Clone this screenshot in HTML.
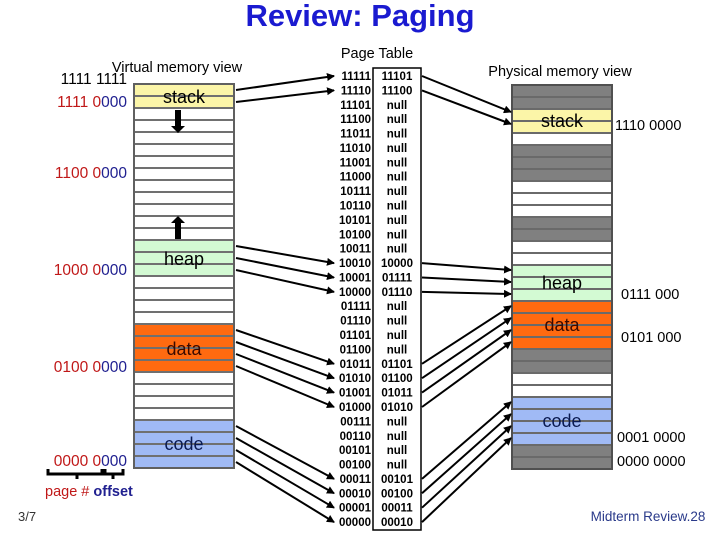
<!DOCTYPE html>
<html><head><meta charset="utf-8"><style>
html,body{margin:0;padding:0;background:#fff;}
svg{display:block;}
text{font-family:"Liberation Sans",Arial,sans-serif;}
</style></head><body>
<svg width="720" height="540" viewBox="0 0 720 540" xmlns="http://www.w3.org/2000/svg">
<defs>
<marker id="ah" markerWidth="8" markerHeight="8" refX="7" refY="4" orient="auto" markerUnits="userSpaceOnUse">
<path d="M0,0 L8,4 L0,8 z" fill="#000"/></marker>
</defs>
<text x="360" y="26" text-anchor="middle" font-size="31" font-weight="bold" fill="#1a1ad0">Review: Paging</text>
<text x="177" y="72" text-anchor="middle" font-size="14.5" fill="#000">Virtual memory view</text>
<text x="377" y="58" text-anchor="middle" font-size="14.5" fill="#000">Page Table</text>
<text x="560" y="76" text-anchor="middle" font-size="14.5" fill="#000">Physical memory view</text>

<!-- Virtual memory -->
<rect x="134" y="84" width="100" height="384" fill="#fff"/>
<rect x="134" y="84" width="100" height="24" fill="#fbf5a8"/>
<rect x="134" y="240" width="100" height="36" fill="#d3fad3"/>
<rect x="134" y="324" width="100" height="48" fill="#ff6a10"/>
<rect x="134" y="420" width="100" height="48" fill="#a0baf5"/>
<g stroke="#707070" stroke-width="2">
<line x1="134" y1="96" x2="234" y2="96"/><line x1="134" y1="108" x2="234" y2="108"/><line x1="134" y1="120" x2="234" y2="120"/><line x1="134" y1="132" x2="234" y2="132"/><line x1="134" y1="144" x2="234" y2="144"/><line x1="134" y1="156" x2="234" y2="156"/><line x1="134" y1="168" x2="234" y2="168"/><line x1="134" y1="180" x2="234" y2="180"/><line x1="134" y1="192" x2="234" y2="192"/><line x1="134" y1="204" x2="234" y2="204"/><line x1="134" y1="216" x2="234" y2="216"/><line x1="134" y1="228" x2="234" y2="228"/><line x1="134" y1="240" x2="234" y2="240"/><line x1="134" y1="252" x2="234" y2="252"/><line x1="134" y1="264" x2="234" y2="264"/><line x1="134" y1="276" x2="234" y2="276"/><line x1="134" y1="288" x2="234" y2="288"/><line x1="134" y1="300" x2="234" y2="300"/><line x1="134" y1="312" x2="234" y2="312"/><line x1="134" y1="324" x2="234" y2="324"/><line x1="134" y1="336" x2="234" y2="336"/><line x1="134" y1="348" x2="234" y2="348"/><line x1="134" y1="360" x2="234" y2="360"/><line x1="134" y1="372" x2="234" y2="372"/><line x1="134" y1="384" x2="234" y2="384"/><line x1="134" y1="396" x2="234" y2="396"/><line x1="134" y1="408" x2="234" y2="408"/><line x1="134" y1="420" x2="234" y2="420"/><line x1="134" y1="432" x2="234" y2="432"/><line x1="134" y1="444" x2="234" y2="444"/><line x1="134" y1="456" x2="234" y2="456"/>
</g>
<rect x="134" y="84" width="100" height="384" fill="none" stroke="#606060" stroke-width="2"/>
<text x="184" y="103" text-anchor="middle" font-size="18" fill="#000">stack</text>
<text x="184" y="265" text-anchor="middle" font-size="18" fill="#000">heap</text>
<text x="184" y="355" text-anchor="middle" font-size="18" fill="#3a0a00">data</text>
<text x="184" y="450" text-anchor="middle" font-size="18" fill="#0a1a50">code</text>
<rect x="175" y="110" width="6" height="18" fill="#000"/><path d="M171,126 L185,126 L178,133 z" fill="#000"/>
<rect x="175" y="221" width="6" height="18" fill="#000"/><path d="M171,223 L185,223 L178,216 z" fill="#000"/>

<g font-size="15.5">
<text x="127" y="84" text-anchor="end" fill="#000">1111 1111</text>
<text x="127" y="107" text-anchor="end"><tspan fill="#c01818">1111 0</tspan><tspan fill="#202090">000</tspan></text>
<text x="127" y="178" text-anchor="end"><tspan fill="#c01818">1100 0</tspan><tspan fill="#202090">000</tspan></text>
<text x="127" y="275" text-anchor="end"><tspan fill="#c01818">1000 0</tspan><tspan fill="#202090">000</tspan></text>
<text x="127" y="372" text-anchor="end"><tspan fill="#c01818">0100 0</tspan><tspan fill="#202090">000</tspan></text>
<text x="127" y="466" text-anchor="end"><tspan fill="#c01818">0000 0</tspan><tspan fill="#202090">000</tspan></text>
</g>
<path d="M48,469 v5 h57 v-5 M77,474 v5" fill="none" stroke="#000" stroke-width="3"/>
<path d="M102,469 v5 h21 v-5 M113,474 v5" fill="none" stroke="#000" stroke-width="3"/>
<text x="45" y="496" font-size="14.5"><tspan fill="#c01818">page # </tspan><tspan fill="#202090" font-weight="bold">offset</tspan></text>
<text x="18" y="521" font-size="13" fill="#333">3/7</text>
<text x="648" y="521" text-anchor="middle" font-size="13.5" fill="#2a3a8a">Midterm Review.28</text>

<!-- Page table -->
<rect x="373" y="68" width="48" height="462" fill="#fff" stroke="#000" stroke-width="1.5"/>
<g font-size="11.5" font-weight="bold" fill="#000">
<g text-anchor="end">
<text x="371" y="80">11111</text><text x="371" y="94.4">11110</text><text x="371" y="108.8">11101</text><text x="371" y="123.2">11100</text><text x="371" y="137.6">11011</text><text x="371" y="151.9">11010</text><text x="371" y="166.3">11001</text><text x="371" y="180.7">11000</text><text x="371" y="195.1">10111</text><text x="371" y="209.5">10110</text><text x="371" y="223.9">10101</text><text x="371" y="238.3">10100</text><text x="371" y="252.7">10011</text><text x="371" y="267.1">10010</text><text x="371" y="281.5">10001</text><text x="371" y="295.9">10000</text><text x="371" y="310.2">01111</text><text x="371" y="324.6">01110</text><text x="371" y="339">01101</text><text x="371" y="353.4">01100</text><text x="371" y="367.8">01011</text><text x="371" y="382.2">01010</text><text x="371" y="396.6">01001</text><text x="371" y="411">01000</text><text x="371" y="425.4">00111</text><text x="371" y="439.8">00110</text><text x="371" y="454.1">00101</text><text x="371" y="468.5">00100</text><text x="371" y="482.9">00011</text><text x="371" y="497.3">00010</text><text x="371" y="511.7">00001</text><text x="371" y="526.1">00000</text>
</g>
<g text-anchor="middle">
<text x="397" y="80">11101</text><text x="397" y="94.4">11100</text><text x="397" y="108.8">null</text><text x="397" y="123.2">null</text><text x="397" y="137.6">null</text><text x="397" y="151.9">null</text><text x="397" y="166.3">null</text><text x="397" y="180.7">null</text><text x="397" y="195.1">null</text><text x="397" y="209.5">null</text><text x="397" y="223.9">null</text><text x="397" y="238.3">null</text><text x="397" y="252.7">null</text><text x="397" y="267.1">10000</text><text x="397" y="281.5">01111</text><text x="397" y="295.9">01110</text><text x="397" y="310.2">null</text><text x="397" y="324.6">null</text><text x="397" y="339">null</text><text x="397" y="353.4">null</text><text x="397" y="367.8">01101</text><text x="397" y="382.2">01100</text><text x="397" y="396.6">01011</text><text x="397" y="411">01010</text><text x="397" y="425.4">null</text><text x="397" y="439.8">null</text><text x="397" y="454.1">null</text><text x="397" y="468.5">null</text><text x="397" y="482.9">00101</text><text x="397" y="497.3">00100</text><text x="397" y="511.7">00011</text><text x="397" y="526.1">00010</text>
</g>
</g>

<!-- Physical memory -->
<rect x="512" y="85" width="100" height="384" fill="#fff"/>
<rect x="512" y="85" width="100" height="24" fill="#808080"/>
<rect x="512" y="109" width="100" height="24" fill="#fbf5a8"/>
<rect x="512" y="145" width="100" height="36" fill="#808080"/>
<rect x="512" y="217" width="100" height="24" fill="#808080"/>
<rect x="512" y="265" width="100" height="36" fill="#d3fad3"/>
<rect x="512" y="301" width="100" height="48" fill="#ff6a10"/>
<rect x="512" y="349" width="100" height="24" fill="#808080"/>
<rect x="512" y="397" width="100" height="48" fill="#a0baf5"/>
<rect x="512" y="445" width="100" height="24" fill="#808080"/>
<g stroke="#6a6a6a" stroke-width="2">
<line x1="512" y1="97" x2="612" y2="97"/><line x1="512" y1="109" x2="612" y2="109"/><line x1="512" y1="121" x2="612" y2="121"/><line x1="512" y1="133" x2="612" y2="133"/><line x1="512" y1="145" x2="612" y2="145"/><line x1="512" y1="157" x2="612" y2="157"/><line x1="512" y1="169" x2="612" y2="169"/><line x1="512" y1="181" x2="612" y2="181"/><line x1="512" y1="193" x2="612" y2="193"/><line x1="512" y1="205" x2="612" y2="205"/><line x1="512" y1="217" x2="612" y2="217"/><line x1="512" y1="229" x2="612" y2="229"/><line x1="512" y1="241" x2="612" y2="241"/><line x1="512" y1="253" x2="612" y2="253"/><line x1="512" y1="265" x2="612" y2="265"/><line x1="512" y1="277" x2="612" y2="277"/><line x1="512" y1="289" x2="612" y2="289"/><line x1="512" y1="301" x2="612" y2="301"/><line x1="512" y1="313" x2="612" y2="313"/><line x1="512" y1="325" x2="612" y2="325"/><line x1="512" y1="337" x2="612" y2="337"/><line x1="512" y1="349" x2="612" y2="349"/><line x1="512" y1="361" x2="612" y2="361"/><line x1="512" y1="373" x2="612" y2="373"/><line x1="512" y1="385" x2="612" y2="385"/><line x1="512" y1="397" x2="612" y2="397"/><line x1="512" y1="409" x2="612" y2="409"/><line x1="512" y1="421" x2="612" y2="421"/><line x1="512" y1="433" x2="612" y2="433"/><line x1="512" y1="445" x2="612" y2="445"/><line x1="512" y1="457" x2="612" y2="457"/>
</g>
<rect x="512" y="85" width="100" height="384" fill="none" stroke="#505050" stroke-width="2"/>
<text x="562" y="127" text-anchor="middle" font-size="18" fill="#000">stack</text>
<text x="562" y="289" text-anchor="middle" font-size="18" fill="#000">heap</text>
<text x="562" y="331" text-anchor="middle" font-size="18" fill="#3a0a00">data</text>
<text x="562" y="427" text-anchor="middle" font-size="18" fill="#0a1a50">code</text>
<g font-size="14.5" fill="#000">
<text x="615" y="130">1110 0000</text>
<text x="621" y="299">0111 000</text>
<text x="621" y="342">0101 000</text>
<text x="617" y="442">0001 0000</text>
<text x="617" y="466">0000 0000</text>
</g>

<g stroke="#000" stroke-width="2" marker-end="url(#ah)">
<line x1="236" y1="90" x2="334" y2="76"/>
<line x1="236" y1="102" x2="334" y2="90.4"/>
<line x1="236" y1="246" x2="334" y2="263.1"/>
<line x1="236" y1="258" x2="334" y2="277.5"/>
<line x1="236" y1="270" x2="334" y2="291.9"/>
<line x1="236" y1="330" x2="334" y2="363.8"/>
<line x1="236" y1="342" x2="334" y2="378.2"/>
<line x1="236" y1="354" x2="334" y2="392.6"/>
<line x1="236" y1="366" x2="334" y2="407"/>
<line x1="236" y1="426" x2="334" y2="478.9"/>
<line x1="236" y1="438" x2="334" y2="493.3"/>
<line x1="236" y1="450" x2="334" y2="507.7"/>
<line x1="236" y1="462" x2="334" y2="522.1"/>
</g>
<g stroke="#000" stroke-width="2" marker-end="url(#ah)">
<line x1="422" y1="76" x2="511" y2="112"/>
<line x1="422" y1="90.4" x2="511" y2="124"/>
<line x1="422" y1="263.1" x2="511" y2="270"/>
<line x1="422" y1="277.5" x2="511" y2="282"/>
<line x1="422" y1="291.9" x2="511" y2="294"/>
<line x1="422" y1="363.8" x2="511" y2="306"/>
<line x1="422" y1="378.2" x2="511" y2="318"/>
<line x1="422" y1="392.6" x2="511" y2="330"/>
<line x1="422" y1="407" x2="511" y2="342"/>
<line x1="422" y1="478.9" x2="511" y2="402"/>
<line x1="422" y1="493.3" x2="511" y2="414"/>
<line x1="422" y1="507.7" x2="511" y2="426"/>
<line x1="422" y1="522.1" x2="511" y2="438"/>
</g>
</svg>
</body></html>
